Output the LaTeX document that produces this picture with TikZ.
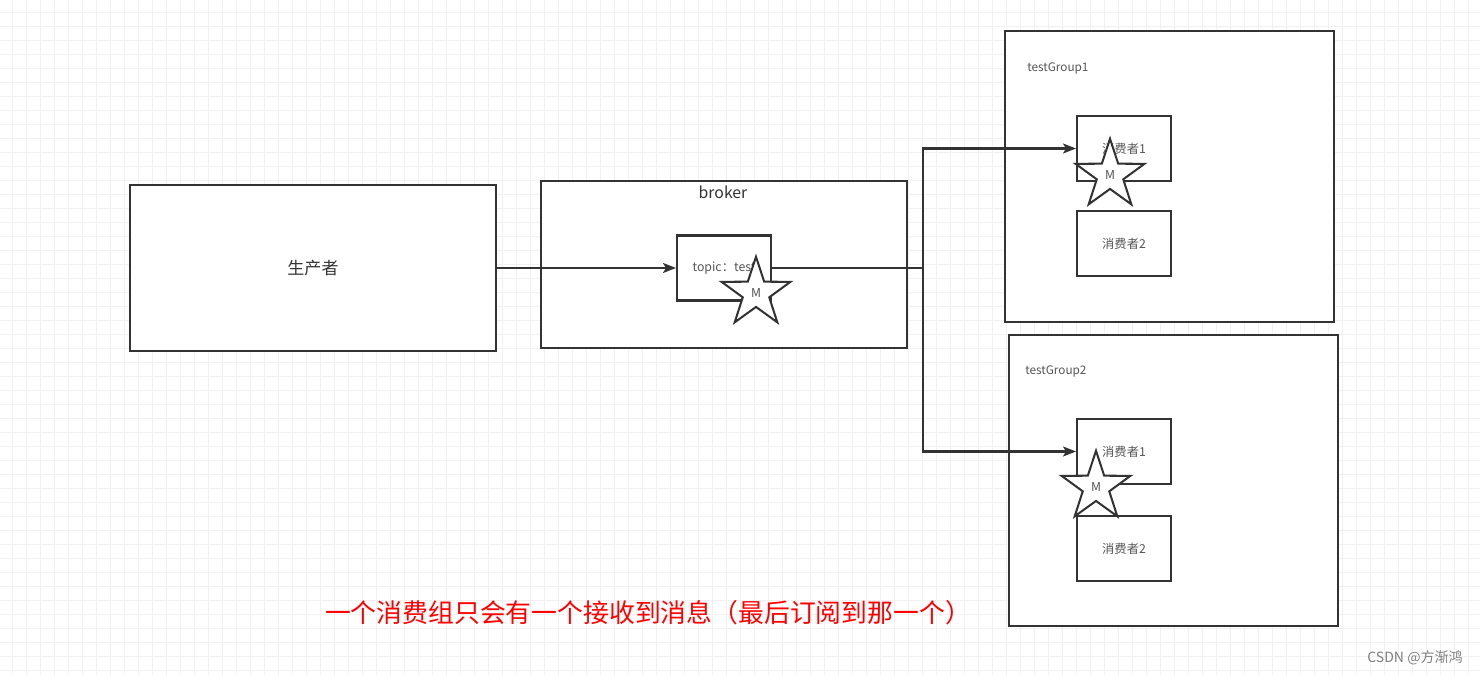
\documentclass[tikz,border=0pt]{standalone}
\usepackage{fontspec}
\setmainfont{Noto Sans CJK SC}
\usetikzlibrary{arrows.meta,shapes.geometric,positioning}
\definecolor{linegray}{HTML}{333333}
\definecolor{textgray}{HTML}{555555}
\definecolor{gridgray}{HTML}{F1F1F1}

\begin{document}
\begin{tikzpicture}[x=0.02cm, y=-0.02cm,
    box/.style={draw=linegray, line width=1.15pt, fill=white, inner sep=0pt},
    bigbox/.style={box, minimum width=7.32cm, minimum height=3.32cm, text=linegray, font=\fontsize{9.7}{11}\selectfont},
    grp/.style={box, minimum width=6.58cm, minimum height=5.82cm},
    cbox/.style={box, minimum width=1.88cm, minimum height=1.3cm, text=textgray, font=\fontsize{7}{8}\selectfont},
    msg/.style={star, star points=5, star point ratio=2.6, minimum size=1.45cm, draw=linegray, line width=1.15pt, fill=white, inner sep=0pt, text=textgray, font=\fontsize{7}{8}\selectfont},
    arr/.style={-{Stealth[length=0.26cm, width=0.2cm, inset=0.06cm]}, draw=linegray, line width=1.15pt},
    wire/.style={draw=linegray, line width=1.15pt},
    lbl/.style={anchor=west, text=textgray, inner sep=0pt, font=\fontsize{6.7}{8}\selectfont}
]
\useasboundingbox (0,0) rectangle (1480,675);
\fill[white] (0,0) rectangle (1480,675);
% grid
\foreach \gx in {12,26,...,1480} \draw[gridgray, line width=0.5pt] (\gx,0) -- (\gx,675);
\foreach \gy in {12,26,...,675} \draw[gridgray, line width=0.5pt] (0,\gy) -- (1480,\gy);

\node[bigbox] (prod) at (313,268) {生产者};
\node[bigbox, minimum height=3.34cm] (broker) at (724,264.5) {};
\node[text=linegray, font=\fontsize{9}{10}\selectfont] (brokerlbl) at (723,192) {broker};
\node[cbox] (topic) at (724,268) {topic：test};

\node[grp] (g1) at (1169.5,176.5) {};
\node[lbl] (g1lbl) at (1027,68) {testGroup1};
\node[cbox] (c11) at (1124,148.5) {消费者1};
\node[cbox] (c12) at (1124,243.5) {消费者2};

\node[grp] (g2) at (1173.5,480.5) {};
\node[lbl] (g2lbl) at (1025,371) {testGroup2};
\node[cbox] (c21) at (1124,451.5) {消费者1};
\node[cbox] (c22) at (1124,548.5) {消费者2};

\coordinate (split) at (923,268);
\draw[arr] (prod) -- (topic);
\draw[wire] (topic.east) -- (split);
\draw[arr] (split) |- (c11.west);
\draw[arr] (split) |- (c21.west);

\node[msg] (m0) at (756,293) {M};
\node[msg] (m1) at (1110,175) {M};
\node[msg] (m2) at (1096,487) {M};

\node[text=red, font=\fontsize{14.7}{16}\selectfont] (note) at (648,613) {一个消费组只会有一个接收到消息（最后订阅到那一个）};
\node[text=gray, font=\fontsize{8}{9}\selectfont] (mark) at (1415,658) {CSDN @方渐鸿};
\end{tikzpicture}
\end{document}
